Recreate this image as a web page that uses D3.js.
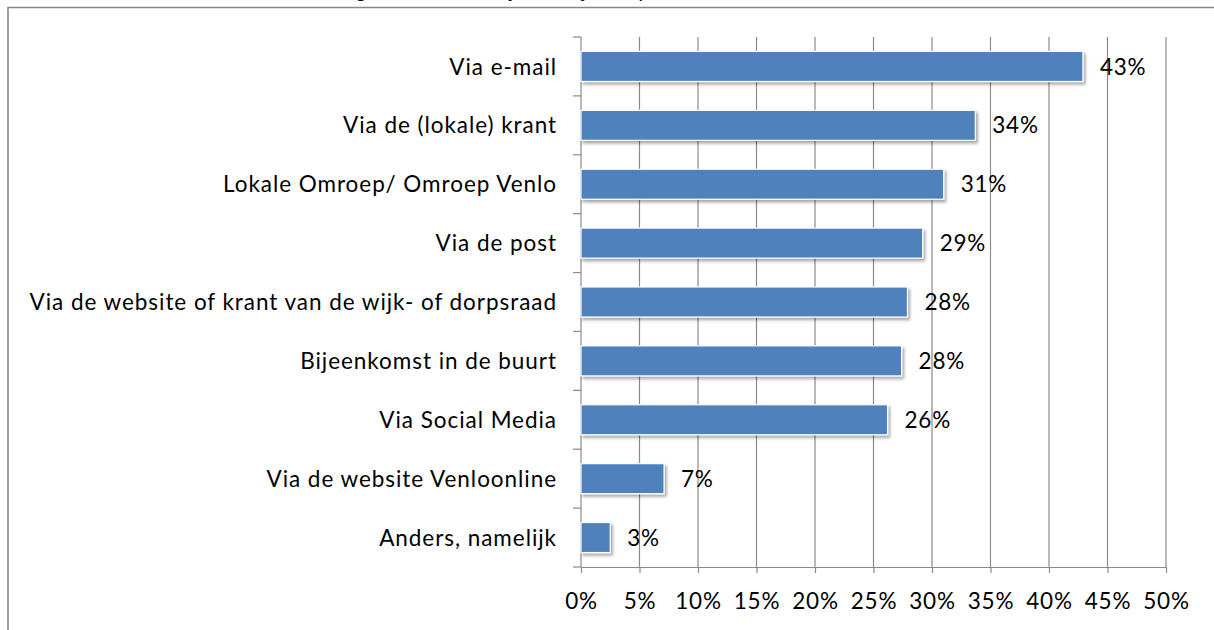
<!DOCTYPE html>
<html>
<head>
<meta charset="utf-8">
<script src="https://cdn.jsdelivr.net/npm/d3@7"></script>
<style>
  html, body { margin: 0; padding: 0; background: #fff; }
  svg { display: block; }
</style>
</head>
<body>
<svg id="chart" width="1214" height="630"></svg>
<script>
const title = "Het liefst geïnformeerd in jouw wijk/dorp (in totaal)";
const categories = [
  "Via e-mail",
  "Via de (lokale) krant",
  "Lokale Omroep/ Omroep Venlo",
  "Via de post",
  "Via de website of krant van de wijk- of dorpsraad",
  "Bijeenkomst in de buurt",
  "Via Social Media",
  "Via de website Venloonline",
  "Anders, namelijk"
];
const values = [42.9, 33.7, 31.0, 29.2, 27.9, 27.4, 26.2, 7.1, 2.5];
const valueLabels = ["43%", "34%", "31%", "29%", "28%", "28%", "26%", "7%", "3%"];
const tickValues = [0, 5, 10, 15, 20, 25, 30, 35, 40, 45, 50];

const svg = d3.select("#chart");
const font = "Lato, 'Open Sans', sans-serif";
const gridColor = "#8a8a8a";
const fs = 22.5, ls = 0.95;

// drop shadow filter
const defs = svg.append("defs");
const f = defs.append("filter").attr("id", "shadow").attr("x", "-10%").attr("y", "-20%").attr("width", "130%").attr("height", "160%");
f.append("feDropShadow").attr("dx", 2).attr("dy", 2.5).attr("stdDeviation", 1.8)
  .attr("flood-color", "#000").attr("flood-opacity", 0.35);

// outer frame
svg.append("path")
  .attr("d", "M8,640 L8,7.5 L1220,7.5")
  .attr("fill", "none").attr("stroke", "#878787").attr("stroke-width", 1.6);

// title (clipped by the top edge, as in the reference)
const t = svg.append("text")
  .attr("x", 0).attr("y", -3)
  .attr("font-family", font).attr("font-style", "italic")
  .attr("font-size", 22).attr("letter-spacing", 0.4).attr("fill", "#000")
  .text(title);
const gi = title.indexOf("g");
const gOff = t.node().getSubStringLength(0, gi);
t.attr("x", 357 - gOff);

const pLeft = 581, pRight = 1166, pTop = 37, pBottom = 567;
const x = d3.scaleLinear().domain([0, 50]).range([pLeft, pRight]);
const y = d3.scaleBand().domain(categories).range([pTop, pBottom]).paddingInner(0.49).paddingOuter(0.245);
const yBound = d3.scaleLinear().domain([0, categories.length]).range([pTop, pBottom]);

// vertical gridlines
svg.append("g").selectAll("line").data(tickValues.slice(1)).join("line")
  .attr("x1", d => x(d)).attr("x2", d => x(d))
  .attr("y1", pTop).attr("y2", pBottom)
  .attr("stroke", gridColor).attr("stroke-width", 1.2);

// left axis line and ticks at category boundaries
svg.append("line").attr("x1", pLeft).attr("x2", pLeft).attr("y1", pTop).attr("y2", pBottom)
  .attr("stroke", gridColor).attr("stroke-width", 1.2);
svg.append("g").selectAll("line").data(d3.range(categories.length + 1)).join("line")
  .attr("x1", pLeft - 8).attr("x2", pLeft)
  .attr("y1", d => yBound(d)).attr("y2", d => yBound(d))
  .attr("stroke", gridColor).attr("stroke-width", 1.2);

// bottom axis
const xAxis = d3.axisBottom(x).tickValues(tickValues).tickFormat(d => d + "%").tickSizeInner(6).tickSizeOuter(0).tickPadding(20);
const gx = svg.append("g").attr("transform", `translate(0,${pBottom})`).call(xAxis);
gx.select(".domain").attr("stroke", gridColor).attr("stroke-width", 1.2);
gx.selectAll(".tick line").attr("stroke", gridColor).attr("stroke-width", 1.2);
gx.selectAll("text").attr("font-family", font).attr("font-size", fs).attr("letter-spacing", 0.75).attr("fill", "#000");

// bars
svg.append("g").selectAll("rect").data(categories).join("rect")
  .attr("x", x(0))
  .attr("y", d => y(d))
  .attr("width", (d, i) => x(values[i]) - x(0))
  .attr("height", y.bandwidth())
  .attr("fill", "#4f81bd")
  .attr("stroke", "#fff").attr("stroke-width", 1.2)
  .attr("filter", "url(#shadow)");

// value labels
svg.append("g").selectAll("text").data(categories).join("text")
  .attr("x", (d, i) => x(values[i]) + 17)
  .attr("y", d => y(d) + y.bandwidth() / 2)
  .attr("dy", "0.36em")
  .attr("font-family", font).attr("font-size", fs).attr("letter-spacing", 0.75).attr("fill", "#000")
  .text((d, i) => valueLabels[i]);

// category labels
svg.append("g").selectAll("text").data(categories).join("text")
  .attr("x", 557)
  .attr("y", d => y(d) + y.bandwidth() / 2)
  .attr("dy", "0.36em")
  .attr("text-anchor", "end")
  .attr("font-family", font).attr("font-size", fs).attr("letter-spacing", ls).attr("fill", "#000")
  .text(d => d);
</script>
</body>
</html>
